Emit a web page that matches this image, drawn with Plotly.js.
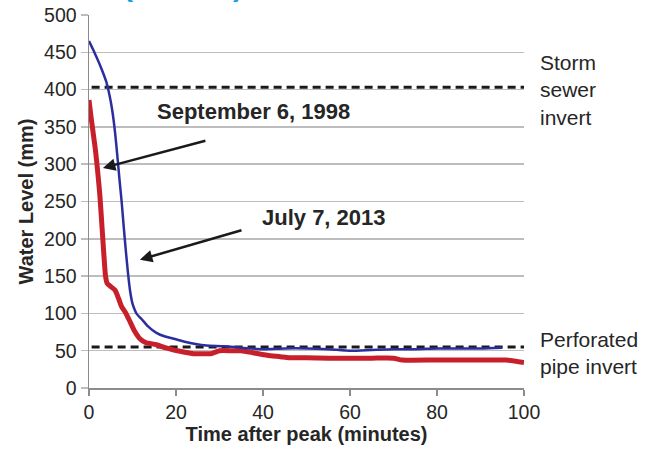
<!DOCTYPE html>
<html>
<head>
<meta charset="utf-8">
<script src="https://cdn.plot.ly/plotly-3.0.1.min.js"></script>
<style>html,body{margin:0;padding:0;background:#fff;}#chart{width:647px;height:452px;}</style>
</head>
<body>
<div id="chart"></div>
<script>
// September 6, 1998 (red)
var sepTime = [0, 0.5, 1, 1.5, 2, 2.5, 3, 3.5, 3.8, 4.2, 5, 6, 6.8, 7.5, 8.5, 9.5, 10.5, 11.7, 13, 15.5, 17.5, 19.5, 22, 24, 26, 28, 29, 30, 33, 35, 38, 41, 44, 46, 50, 55, 60, 65, 70, 72, 80, 90, 96, 100];
var sepLevel = [386, 362, 340, 318, 290, 258, 215, 172, 150, 140, 136, 131, 120, 109, 100, 88, 76, 66, 61, 58, 54, 51, 48, 46, 46, 46, 48, 50, 50, 50, 47, 44, 42, 40.5, 40.5, 40, 40, 40, 40, 37.5, 37.5, 37.5, 37.5, 34];
// July 7, 2013 (blue)
var julTime = [0, 1, 2, 3, 4, 4.5, 5, 5.5, 6, 6.5, 7, 7.5, 8, 8.5, 9, 9.5, 10, 10.5, 11, 12, 13.5, 15.5, 17.5, 19.5, 22, 24.5, 27, 31, 35, 40, 45, 50, 55, 60, 65, 70, 75, 80, 85, 90, 95];
var julLevel = [465, 453, 440, 426, 410, 398, 384, 366, 342, 312, 280, 250, 215, 182, 152, 128, 113, 105, 99, 93, 83, 74, 69, 66, 62, 59, 57, 56, 54, 52, 53, 53, 52, 50, 51, 52, 52, 53, 53, 53, 54];
// Reference levels
var stormSewerInvert = 403;
var perforatedPipeInvert = 55;
var refX = [0.6, 100];
var xTicks = [0, 20, 40, 60, 80, 100];
var yTicks = [0, 50, 100, 150, 200, 250, 300, 350, 400, 450, 500];

var font = "Liberation Sans, Arial, sans-serif";

var traces = [
  {x: refX, y: [stormSewerInvert, stormSewerInvert], mode: 'lines', line: {color: '#1a1a1a', width: 3, dash: '8px,5px'}, hoverinfo: 'skip'},
  {x: refX, y: [perforatedPipeInvert, perforatedPipeInvert], mode: 'lines', line: {color: '#1a1a1a', width: 3, dash: '8px,5px'}, hoverinfo: 'skip'},
  {x: sepTime, y: sepLevel, mode: 'lines', line: {color: '#c8202a', width: 5, shape: 'spline', smoothing: 0.6}, name: 'September 6, 1998'},
  {x: julTime, y: julLevel, mode: 'lines', line: {color: '#2b2f9e', width: 2.5, shape: 'spline', smoothing: 0.6}, name: 'July 7, 2013'}
];

var layout = {
  width: 647, height: 452,
  margin: {l: 89, r: 123, t: 15, b: 64, pad: 0},
  paper_bgcolor: '#fff', plot_bgcolor: '#fff',
  showlegend: false,
  font: {family: font, color: '#262626'},
  xaxis: {
    range: [0, 100], tickvals: xTicks, ticktext: xTicks.map(String),
    showgrid: false, zeroline: false,
    showline: true, linecolor: '#8c8c8c', linewidth: 1.5,
    ticks: 'outside', ticklen: 6, tickcolor: '#8c8c8c', tickwidth: 1.5,
    tickfont: {size: 19.5, color: '#262626', family: font},
    title: {text: '<b>Time after peak (minutes)</b>', font: {size: 20, color: '#262626', family: font}, standoff: 5},
    automargin: false, fixedrange: true
  },
  yaxis: {
    range: [0, 500], tickvals: yTicks, ticktext: yTicks.map(String),
    showgrid: true, gridcolor: '#bdbdbd', gridwidth: 1.5, zeroline: false,
    showline: true, linecolor: '#8c8c8c', linewidth: 1.5,
    ticks: 'outside', ticklen: 7, tickcolor: '#bdbdbd', tickwidth: 1.5,
    tickfont: {size: 19.5, color: '#262626', family: font},
    title: {text: '<b>Water Level (mm)</b>', font: {size: 20, color: '#262626', family: font}, standoff: 5},
    automargin: false, fixedrange: true
  },
  annotations: [
    {x: 37.7, y: 370, xref: 'x', yref: 'y', text: '<b>September 6, 1998</b>', showarrow: false, font: {size: 22, color: '#262626', family: font}},
    {x: 3.2, y: 295, ax: 27.1, ay: 332, xref: 'x', yref: 'y', axref: 'x', ayref: 'y', text: '', showarrow: true, arrowhead: 2, arrowsize: 1, arrowwidth: 2.5, arrowcolor: '#1a1a1a'},
    {x: 54, y: 229, xref: 'x', yref: 'y', text: '<b>July 7, 2013</b>', showarrow: false, font: {size: 22, color: '#262626', family: font}},
    {x: 11.7, y: 172, ax: 35.4, ay: 212, xref: 'x', yref: 'y', axref: 'x', ayref: 'y', text: '', showarrow: true, arrowhead: 2, arrowsize: 1, arrowwidth: 2.5, arrowcolor: '#1a1a1a'},
    {x: 1.032, y: stormSewerInvert - 3, xref: 'paper', yref: 'y', xanchor: 'left', yanchor: 'middle', align: 'left', text: 'Storm<br>sewer<br>invert', showarrow: false, font: {size: 21, color: '#262626', family: font}},
    {x: 1.032, y: perforatedPipeInvert - 8, xref: 'paper', yref: 'y', xanchor: 'left', yanchor: 'middle', align: 'left', text: 'Perforated<br>pipe invert', showarrow: false, font: {size: 21, color: '#262626', family: font}},
    {x: 0.216, y: 1.080, xref: 'paper', yref: 'paper', xanchor: 'center', yanchor: 'middle', text: '<b>(&nbsp;&nbsp;&nbsp;&nbsp;&nbsp;&nbsp;&nbsp;&nbsp;&nbsp;&nbsp;&nbsp;&nbsp;)</b>', showarrow: false, font: {size: 30, color: '#1ba1e2', family: font}}
  ]
};

Plotly.newPlot('chart', traces, layout, {staticPlot: true, displayModeBar: false});
</script>
</body>
</html>
